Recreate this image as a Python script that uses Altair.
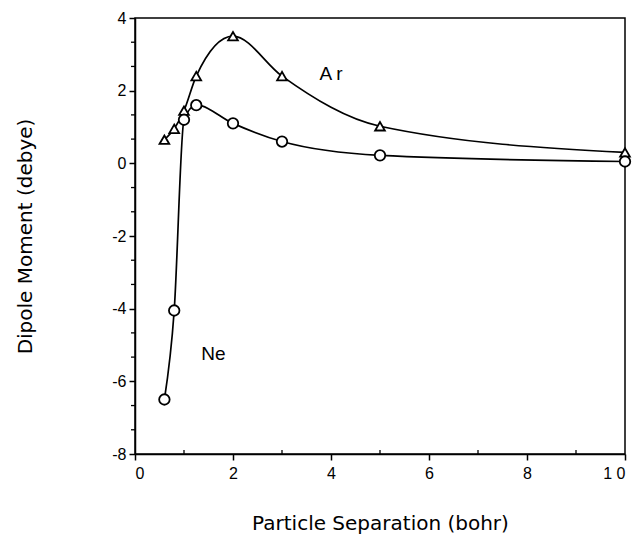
import altair as alt
import pandas as pd

separation = [0.6, 0.8, 1.0, 1.25, 2, 3, 5, 10]
argon = [0.65, 0.95, 1.45, 2.4, 3.5, 2.4, 1.02, 0.3]
neon = [-6.5, -4.05, 1.2, 1.6, 1.1, 0.6, 0.22, 0.05]

x_major = [0, 2, 4, 6, 8, 10]
x_minor = [1, 3, 5, 7, 9]
y_major = [-8, -6, -4, -2, 0, 2, 4]
y_minor = [v + d for v in [-8, -6, -4, -2, 0, 2] for d in (2 / 3, 4 / 3)]

labels = ["A r", "Ne"]
label_x = [4.0, 1.6]
label_y = [2.45, -5.25]

W, H = 490, 436
FONT = "Liberation Sans"
TFONT = "DejaVu Sans"

df = pd.DataFrame({
    "sep": separation * 2,
    "moment": argon + neon,
    "gas": ["Ar"] * len(argon) + ["Ne"] * len(neon),
})
lab = pd.DataFrame({"text": labels, "x": label_x, "y": label_y})
xmin = pd.DataFrame({"v": x_minor})
ymin = pd.DataFrame({"v": y_minor})

xscale = alt.Scale(domain=[0, 10], nice=False, zero=False)
yscale = alt.Scale(domain=[-8, 4], nice=False, zero=False)

xaxis = alt.Axis(values=x_major, title="Particle Separation (bohr)", grid=False,
                 tickSize=6, labelPadding=5, titlePadding=32,
                 labelExpr="datum.value == 10 ? '1 0' : datum.label")
yaxis = alt.Axis(values=y_major, title="Dipole Moment (debye)", grid=False,
                 tickSize=6, labelPadding=3, titlePadding=76,
                 labelExpr="replace(datum.label, '\u2212', '-')")

base = alt.Chart(df)

lines = base.mark_line(interpolate="monotone", color="black", strokeWidth=1.7).encode(
    x=alt.X("sep:Q", scale=xscale, axis=xaxis),
    y=alt.Y("moment:Q", scale=yscale, axis=yaxis),
    detail="gas:N",
)

points = base.mark_point(filled=False, fill="white", fillOpacity=1, color="black",
                         strokeWidth=1.8, clip=False).encode(
    x=alt.X("sep:Q", scale=xscale),
    y=alt.Y("moment:Q", scale=yscale),
    shape=alt.Shape("gas:N", scale=alt.Scale(domain=["Ar", "Ne"],
                                             range=["triangle-up", "circle"]), legend=None),
    size=alt.Size("gas:N", scale=alt.Scale(domain=["Ar", "Ne"], range=[95, 110]), legend=None),
)

texts = alt.Chart(lab).mark_text(font=FONT, fontSize=19, color="black").encode(
    x=alt.X("x:Q", scale=xscale),
    y=alt.Y("y:Q", scale=yscale),
    text="text:N",
)

xminor = alt.Chart(xmin).mark_rule(color="black", strokeWidth=1.3).encode(
    x=alt.X("v:Q", scale=xscale),
    y=alt.value(H),
    y2=alt.value(H - 4),
)

yminor = alt.Chart(ymin).mark_rule(color="black", strokeWidth=1.3).encode(
    y=alt.Y("v:Q", scale=yscale),
    x=alt.value(0),
    x2=alt.value(-4),
)

chart = alt.layer(lines, points, texts, xminor, yminor).properties(
    width=W, height=H,
    autosize=alt.AutoSizeParams(type="none"),
    padding={"left": 127, "top": 10, "right": 11, "bottom": 80},
    background="white",
).configure_view(
    stroke="black", strokeWidth=1.5
).configure_axis(
    domainColor="black", domainWidth=1.5, tickColor="black", tickWidth=1.5,
    labelColor="black", titleColor="black",
    labelFont=FONT, titleFont=TFONT, labelFontSize=16, titleFontSize=20,
    titleFontWeight="normal",
)

chart.save("out.html", embed_options={"renderer": "svg", "actions": False})
